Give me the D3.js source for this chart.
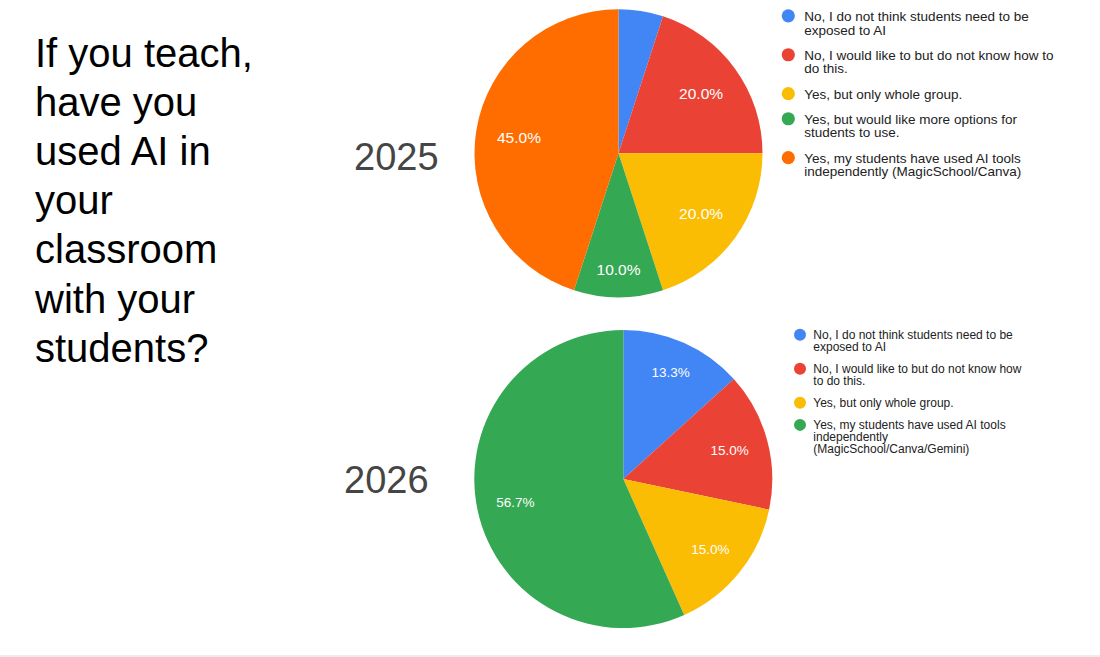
<!DOCTYPE html>
<html>
<head>
<meta charset="utf-8">
<script src="https://cdn.jsdelivr.net/npm/d3@7"></script>
<style>
  html, body { margin: 0; padding: 0; background: #fff; }
  svg { display: block; }
</style>
</head>
<body>
<svg id="chart" width="1100" height="657"></svg>
<script>
// ---------- data ----------
const titleLines = ["If you teach,", "have you", "used AI in", "your", "classroom", "with your", "students?"];

const year2025 = "2025";
const categories2025 = [
  ["No, I do not think students need to be", "exposed to AI"],
  ["No, I would like to but do not know how to", "do this."],
  ["Yes, but only whole group."],
  ["Yes, but would like more options for", "students to use."],
  ["Yes, my students have used AI tools", "independently (MagicSchool/Canva)"]
];
const values2025 = [5.0, 20.0, 20.0, 10.0, 45.0];

const year2026 = "2026";
const categories2026 = [
  ["No, I do not think students need to be", "exposed to AI"],
  ["No, I would like to but do not know how", "to do this."],
  ["Yes, but only whole group."],
  ["Yes, my students have used AI tools", "independently", "(MagicSchool/Canva/Gemini)"]
];
const values2026 = [13.3, 15.0, 15.0, 56.7];

// ---------- styles ----------
const colors2025 = ["#4285F4", "#EA4335", "#FBBC04", "#34A853", "#FF6D01"];
const colors2026 = ["#4285F4", "#EA4335", "#FBBC04", "#34A853"];
const FONT = "'Liberation Sans', Arial, Helvetica, sans-serif";

const svg = d3.select("#chart");

// title
svg.append("g").selectAll("text").data(titleLines).join("text")
  .attr("x", 35)
  .attr("y", (d, i) => 66.5 + i * 49.2)
  .attr("font-family", FONT)
  .attr("font-size", 40)
  .attr("fill", "#000")
  .text(d => d);

// bottom rule
svg.append("rect").attr("x", 0).attr("y", 655).attr("width", 1100).attr("height", 2).attr("fill", "#ececec");

function drawPie(cfg) {
  const g = svg.append("g").attr("transform", `translate(${cfg.cx},${cfg.cy})`);
  const pie = d3.pie().sort(null).value(d => d)(cfg.values);
  const arc = d3.arc().innerRadius(0).outerRadius(cfg.r);

  g.selectAll("path").data(pie).join("path")
    .attr("d", arc)
    .attr("fill", (d, i) => cfg.colors[i]);

  const fmt = d3.format(".1f");
  const labels = g.selectAll("text.lbl").data(pie.filter(d => d.data >= 8)).join("text")
    .attr("class", "lbl")
    .attr("font-family", FONT)
    .attr("font-size", cfg.labelSize)
    .attr("fill", "#fff")
    .attr("text-anchor", "middle")
    .attr("dy", "0.36em")
    .text(d => fmt(d.data) + "%");

  labels.each(function (d) {
    const bb = this.getBBox();
    const w = bb.width / 2, h = cfg.labelSize * 0.36;
    const a = (d.startAngle + d.endAngle) / 2;
    const ux = Math.sin(a), uy = -Math.cos(a);
    const D = cfg.r - cfg.labelInset;
    const b = Math.abs(ux) * w + Math.abs(uy) * h;
    const rr = -b + Math.sqrt(b * b - (w * w + h * h - D * D));
    d3.select(this).attr("x", rr * ux).attr("y", rr * uy);
  });

  // year label
  svg.append("text")
    .attr("x", cfg.yearX).attr("y", cfg.yearY)
    .attr("font-family", FONT).attr("font-size", 38).attr("fill", "#454545")
    .text(cfg.year);

  // legend
  const lg = svg.append("g");
  let y = cfg.legendY;
  cfg.categories.forEach((lines, i) => {
    lg.append("circle")
      .attr("cx", cfg.legendX).attr("cy", y - cfg.legendSize * 0.36)
      .attr("r", cfg.dotR).attr("fill", cfg.colors[i]);
    const t = lg.append("text")
      .attr("font-family", FONT).attr("font-size", cfg.legendSize).attr("fill", "#222");
    lines.forEach((ln, j) => {
      t.append("tspan").attr("x", cfg.legendX + cfg.textOff).attr("y", y + j * cfg.lineH).text(ln);
    });
    y += lines.length * cfg.lineH + cfg.gap;
  });
}

drawPie({
  cx: 618.5, cy: 153.3, r: 144,
  values: values2025, colors: colors2025, labelSize: 15.5, labelInset: 20.5,
  year: year2025, yearX: 354, yearY: 170,
  categories: categories2025, legendX: 788.3, legendY: 20.7, legendSize: 13.5,
  lineH: 13.8, gap: 11.3, dotR: 6.6, textOff: 16
});

drawPie({
  cx: 623.3, cy: 479, r: 149,
  values: values2026, colors: colors2026, labelSize: 13.5, labelInset: 19,
  year: year2026, yearX: 344, yearY: 493.3,
  categories: categories2026, legendX: 800, legendY: 339, legendSize: 12,
  lineH: 11.8, gap: 10.4, dotR: 6, textOff: 13.3
});
</script>
</body>
</html>
